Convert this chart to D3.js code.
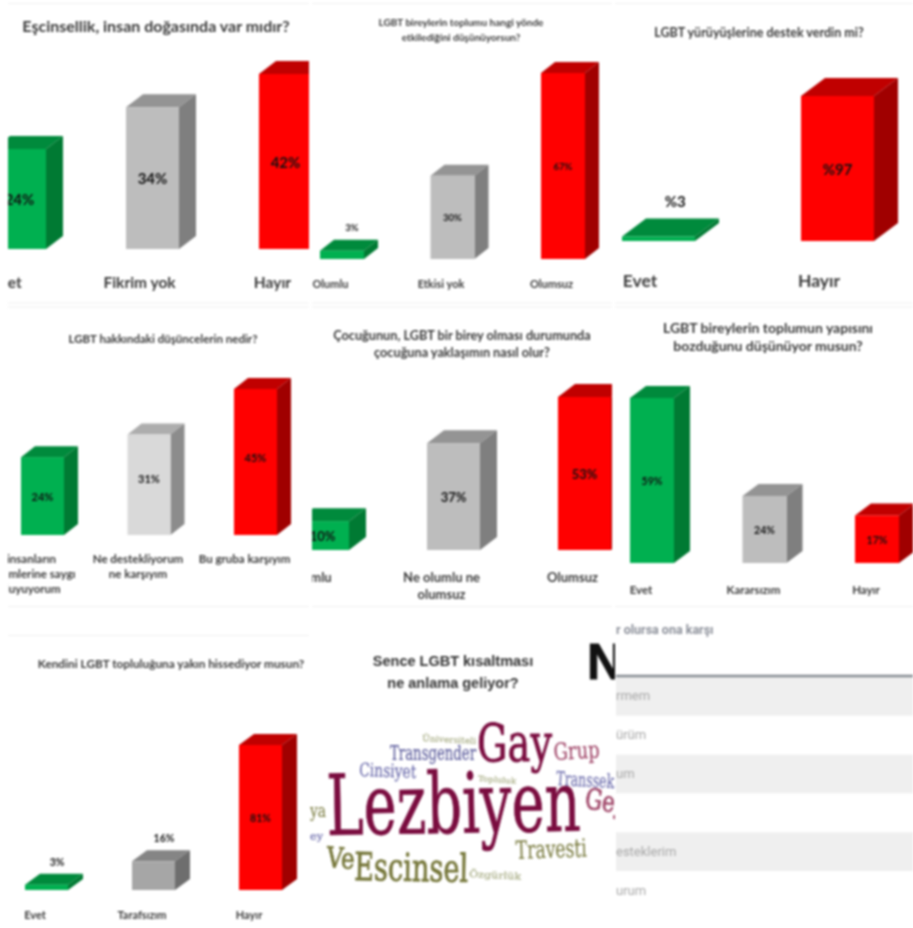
<!DOCTYPE html>
<html><head><meta charset="utf-8">
<script src="https://cdnjs.cloudflare.com/ajax/libs/d3/7.8.5/d3.min.js"></script>
<style>html,body{margin:0;padding:0;background:#fff}svg{display:block;filter:blur(.8px)}</style>
</head><body><div id="c"></div>
<script>
// ---- data ----
const titles1=["Eşcinsellik, insan doğasında var mıdır?"];
const cats1=["Evet","Fikrim yok","Hayır"];
const values1=[24,34,42];
const titles2=["LGBT bireylerin toplumu hangi yönde","etkilediğini düşünüyorsun?"];
const cats2=["Olumlu","Etkisi yok","Olumsuz"];
const values2=[3,30,67];
const titles3=["LGBT yürüyüşlerine destek verdin mi?"];
const cats3=["Evet","Hayır"];
const values3=[3,97];
const titles4=["LGBT hakkındaki düşüncelerin nedir?"];
const cats4=[["insanların","eğilimlerine saygı","duyuyorum"],["Ne destekliyorum","ne karşıyım"],["Bu gruba karşıyım"]];
const values4=[24,31,45];
const titles5=["Çocuğunun, LGBT bir birey olması durumunda","çocuğuna yaklaşımın nasıl olur?"];
const cats5=[["Olumlu"],["Ne olumlu ne","olumsuz"],["Olumsuz"]];
const values5=[10,37,53];
const titles6=["LGBT bireylerin toplumun yapısını","bozduğunu düşünüyor musun?"];
const cats6=["Evet","Kararsızım","Hayır"];
const values6=[59,24,17];
const titles7=["Kendini LGBT topluluğuna yakın hissediyor musun?"];
const cats7=["Evet","Tarafsızım","Hayır"];
const values7=[3,16,81];
const titles8=["Sence LGBT kısaltması","ne anlama geliyor?"];
const cloudWords=["Lezbiyen","Gay","Transgender","Cinsiyet","Grup","Transseksüel","Gey","Topluluk","Üniversiteli","Ve","Escinsel","Travesti","Özgürlük","ya","ey"];
const cloudWeights=[100,62,24,22,28,23,34,9,10,34,46,30,11,22,14];
const tableHeader="r olursa ona karşı";
const tableRows=["rmem","ürüm","um","","esteklerim","urum"];

// ---- layout ----
const W=913,H=928;
const svg=d3.select("#c").append("svg").attr("width",W).attr("height",H);
const defs=svg.append("defs");
const GREEN=["#00b050","#008a3c","#007a33"],GREY=["#bdbdbd","#949494","#7f7f7f"],
      LIGHT=["#d9d9d9","#adadad","#8c8c8c"],DARKG=["#a6a6a6","#858585","#6e6e6e"],RED=["#ff0000","#c00000","#a00000"];
const SANS="Lato, 'Open Sans', sans-serif";
const panels=[
 {t:titles1,c:cats1,v:values1,clip:[8,4,301,299],x0:-7,step:133,w:53,base:249,maxTop:74,dx:17,dy:13,col:[GREEN,GREY,RED],
  tx:156,ty:[32],tf:16,lf:15.5,ly:288,lo:-13,vf:15},
 {t:titles2,c:cats2,v:values2,clip:[312,4,300,299],x0:320,step:110.5,w:44,base:259,maxTop:73,dx:14,dy:11,col:[GREEN,GREY,RED],
  tx:461,ty:[26,41],tf:10,lf:11,ly:288,lo:-11.5,vf:9.5,outside:[0],oy:2},
 {t:titles3,c:cats3,v:values3,clip:[615,4,298,299],x0:622,step:179,w:73,base:241,maxTop:96,dx:24,dy:18,col:[GREEN,RED],
  tx:759,ty:[37],tf:12.5,lf:17.5,ly:287,lo:-18.5,vf:15,pre:true,outside:[0]},
 {t:titles4,c:cats4,v:values4,clip:[8,308,301,298],x0:21,step:106.5,w:43,base:535,maxTop:389,dx:14,dy:11,col:[GREEN,LIGHT,RED],
  tx:163,ty:[343],tf:11.5,lf:11.5,ly:563,lo:-11,vf:11,lh:15,vo:[0,-6,-5]},
 {t:titles5,c:cats5,v:values5,clip:[312,308,300,298],x0:296,step:131,w:53,base:550,maxTop:397,dx:17,dy:13,col:[GREEN,GREY,RED],
  tx:462,ty:[340,357],tf:12.7,lf:13,ly:582,lo:-12,vf:13,lh:17},
 {t:titles6,c:cats6,v:values6,clip:[615,308,298,298],x0:630,step:112.5,w:44,base:563,maxTop:398,dx:16,dy:12,col:[GREEN,GREY,RED],
  tx:768,ty:[333,351],tf:14,lf:11.5,ly:594,lo:-11,vf:10.5},
 {t:titles7,c:cats7,v:values7,clip:[8,636,301,292],x0:25,step:107,w:43,base:890,maxTop:745,dx:15,dy:11,col:[GREEN,DARKG,RED],
  tx:171,ty:[668],tf:11.8,lf:11,ly:919,lo:-11.5,vf:10.5,outside:[0,1]}
];

// faint card rules
const rules=[[8,309,3.5],[312,612,3.5],[615,913,3.5],[8,309,303],[312,612,303],[615,913,303],[8,309,307],[312,612,307],[615,913,307],
 [8,309,606.5],[312,612,606.5],[615,913,606.5],[8,309,635.5]];
svg.selectAll("line.rule").data(rules).join("line").attr("class","rule")
 .attr("x1",d=>d[0]).attr("x2",d=>d[1]).attr("y1",d=>d[2]).attr("y2",d=>d[2])
 .attr("stroke","#f0f0f0").attr("stroke-width",1.2);

panels.forEach((p,i)=>{
  const id="cp"+i;
  defs.append("clipPath").attr("id",id).append("rect")
    .attr("x",p.clip[0]).attr("y",p.clip[1]).attr("width",p.clip[2]).attr("height",p.clip[3]);
  const g=svg.append("g").attr("clip-path",`url(#${id})`);
  const keys=p.c.map((_,k)=>k);
  const n=keys.length;
  const x=d3.scaleBand().domain(keys).range([p.x0,p.x0+(n-1)*p.step+p.w]).paddingInner(1-p.w/p.step).paddingOuter(0);
  const y=d3.scaleLinear().domain([0,d3.max(p.v)]).range([p.base,p.maxTop]);
  g.selectAll("text.title").data(p.t).join("text").attr("class","title")
    .attr("x",p.tx).attr("y",(d,k)=>p.ty[k]).attr("text-anchor","middle")
    .attr("font-family",SANS).attr("font-weight",700).attr("font-size",p.tf).attr("fill","#3a3a3a").text(d=>d);
  const bars=g.selectAll("g.bar").data(p.v).join("g").attr("class","bar");
  bars.append("polygon").attr("fill",(d,k)=>p.col[k][1]).attr("points",(d,k)=>{
    const a=x(k),b=a+x.bandwidth(),t=y(d);
    return [[a,t],[b,t],[b+p.dx,t-p.dy],[a+p.dx,t-p.dy]].join(" ");});
  bars.append("polygon").attr("fill",(d,k)=>p.col[k][2]).attr("points",(d,k)=>{
    const b=x(k)+x.bandwidth(),t=y(d);
    return [[b,t],[b+p.dx,t-p.dy],[b+p.dx,p.base-p.dy],[b,p.base]].join(" ");});
  bars.append("rect").attr("fill",(d,k)=>p.col[k][0]).attr("x",(d,k)=>x(k)).attr("width",x.bandwidth())
    .attr("y",d=>y(d)).attr("height",d=>p.base-y(d));
  const out=p.outside||[];
  const vo=p.vo||[0,0,0];
  bars.append("text").attr("text-anchor","middle").attr("font-family",SANS).attr("font-weight",700)
    .attr("font-size",p.vf).attr("fill","#111")
    .attr("x",(d,k)=>x(k)+x.bandwidth()/2+(out.includes(k)?p.dx*.7:0))
    .attr("y",(d,k)=>out.includes(k)?y(d)-p.dy-p.vf*.75-(p.oy||0):(y(d)+p.base)/2+p.vf*.42+vo[k])
    .text(d=>p.pre?"%"+d:d+"%");
  p.c.forEach((lab,k)=>{
    const lines=Array.isArray(lab)?lab:[lab];
    g.selectAll(null).data(lines).join("text").attr("text-anchor","middle").attr("font-family",SANS)
      .attr("font-weight",700).attr("font-size",p.lf).attr("fill","#3a3a3a")
      .attr("x",x(k)+x.bandwidth()/2+p.lo).attr("y",(d,j)=>p.ly+j*(p.lh||15)).text(d=>d);
  });
});

// word cloud panel
defs.append("clipPath").attr("id","cp8").append("rect").attr("x",310).attr("y",608).attr("width",305).attr("height",320);
const gc=svg.append("g").attr("clip-path","url(#cp8)");
gc.selectAll("text.t8").data(titles8).join("text").attr("class","t8")
  .attr("x",453).attr("y",(d,k)=>666+k*22).attr("text-anchor","middle")
  .attr("font-family","'Liberation Sans',sans-serif").attr("font-weight",700).attr("font-size",14.5).attr("fill","#333").text(d=>d);
gc.append("text").attr("x",587).attr("y",679).attr("font-family","'Liberation Sans',sans-serif")
  .attr("font-weight",700).attr("font-size",50).attr("fill","#111").attr("stroke","#111").attr("stroke-width",1).text("N");
const fs=d3.scaleLinear().domain([0,100]).range([0,84]);
const cloudLayout=[[327,835,254,-1,"#7a0c3f"],[477,761,75,0,"#7a0c3f"],[390,760,86,0,"#5c5c9c"],[359,776,57,2,"#6b6bab"],
 [554,760,46,-3,"#a24a6c"],[556,785,84,3,"#6b6bab"],[584,808,42,8,"#a24a6c"],[478,781,38,4,"#a8ad85"],[422,741,54,3,"#a8ad85"],
 [326,867,28,4,"#76773a"],[354,880,114,1,"#76773a"],[516,859,71,-2,"#7f8048"],[469,877,52,3,"#a8ad85"],[310,817,16,0,"#7f8048"],[310,840,13,0,"#6b6bab"]];
gc.selectAll("text.w").data(cloudWords).join("text").attr("class","w")
  .attr("font-family","'DejaVu Serif','Liberation Serif',serif").attr("font-size",(d,k)=>fs(cloudWeights[k]))
  .attr("textLength",(d,k)=>cloudLayout[k][2]).attr("lengthAdjust","spacingAndGlyphs")
  .attr("fill",(d,k)=>cloudLayout[k][4]).attr("stroke",(d,k)=>cloudLayout[k][4])
  .attr("stroke-width",(d,k)=>cloudWeights[k]>30?.8:.2)
  .attr("transform",(d,k)=>`translate(${cloudLayout[k][0]},${cloudLayout[k][1]}) rotate(${cloudLayout[k][3]})`).text(d=>d);

// cropped table panel
const gt=svg.append("g");
const rowY=d3.scaleBand().domain(d3.range(tableRows.length)).range([677,910]);
gt.selectAll("rect").data(tableRows).join("rect").attr("x",616).attr("width",297)
  .attr("y",(d,k)=>rowY(k)).attr("height",rowY.bandwidth()).attr("fill",(d,k)=>k%2?"#fff":"#efefef");
gt.append("line").attr("x1",616).attr("x2",913).attr("y1",676).attr("y2",676).attr("stroke","#868c92").attr("stroke-width",2.5);
gt.append("text").attr("x",616).attr("y",634).attr("font-family","Roboto,sans-serif").attr("font-weight",700)
  .attr("font-size",12.5).attr("fill","#8b8f99").text(tableHeader);
gt.selectAll("text.r").data(tableRows).join("text").attr("class","r").attr("x",616)
  .attr("y",(d,k)=>rowY(k)+rowY.bandwidth()/2+4).attr("font-family","Roboto,sans-serif").attr("font-size",13).attr("fill","#a8a8a8").text(d=>d);
</script></body></html>
